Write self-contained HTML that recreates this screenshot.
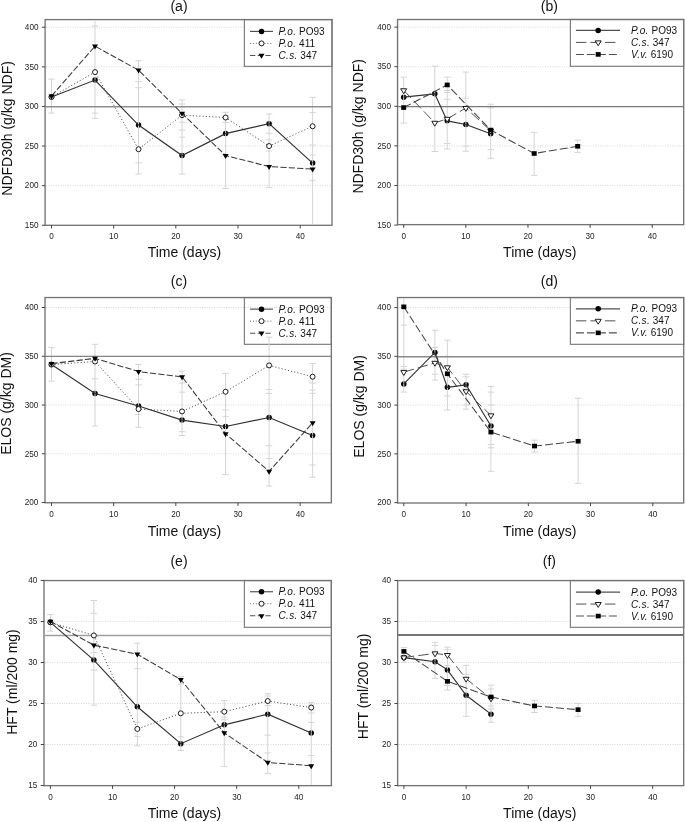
<!DOCTYPE html><html><head><meta charset="utf-8"><style>html,body{margin:0;padding:0;background:#fff;width:685px;height:822px;overflow:hidden}svg{display:block;filter:grayscale(1)}text{font-family:"Liberation Sans",sans-serif}</style></head><body>
<svg width="685" height="822" viewBox="0 0 685 822">
<g id="pa"><line x1="46.1" y1="185.65" x2="331" y2="185.65" stroke="#d2d2d2" stroke-width="0.9" stroke-dasharray="1 1.4"/><line x1="46.1" y1="146.05" x2="331" y2="146.05" stroke="#d2d2d2" stroke-width="0.9" stroke-dasharray="1 1.4"/><line x1="46.1" y1="106.45" x2="331" y2="106.45" stroke="#d2d2d2" stroke-width="0.9" stroke-dasharray="1 1.4"/><line x1="46.1" y1="66.85" x2="331" y2="66.85" stroke="#d2d2d2" stroke-width="0.9" stroke-dasharray="1 1.4"/><line x1="46.1" y1="27.25" x2="331" y2="27.25" stroke="#d2d2d2" stroke-width="0.9" stroke-dasharray="1 1.4"/><rect x="244.4" y="19.6" width="87.6" height="46.8" fill="#fff" stroke="#808080" stroke-width="1.2"/><path d="M250 31.4 L273 31.4" fill="none" stroke="#505050" stroke-width="1.15"/><circle cx="261.5" cy="31.4" r="2.75" fill="#000"/><text x="278.6" y="34.9" font-size="10" fill="#111"><tspan font-style="italic" letter-spacing="0.3">P.o.</tspan> PO93</text><path d="M250 43.4 L273 43.4" fill="none" stroke="#505050" stroke-width="0.9" stroke-dasharray="1 1.9"/><circle cx="261.5" cy="43.4" r="2.5" fill="#fff" stroke="#111" stroke-width="0.95"/><text x="278.6" y="46.9" font-size="10" fill="#111"><tspan font-style="italic" letter-spacing="0.3">P.o.</tspan> 411</text><path d="M250 55.4 L273 55.4" fill="none" stroke="#505050" stroke-width="1.05" stroke-dasharray="5.3 2.4"/><path d="M258.5 53.8H264.5L261.5 58.8Z" fill="#000"/><text x="278.6" y="58.9" font-size="10" fill="#111"><tspan font-style="italic" letter-spacing="0.3">C.s.</tspan> 347</text><rect x="45.1" y="19.6" width="286.9" height="205.7" fill="none" stroke="#747474" stroke-width="1.35"/><circle cx="51.5" cy="96.95" r="2.75" fill="#000"/><circle cx="95.02" cy="80.08" r="2.75" fill="#000"/><circle cx="138.54" cy="125.06" r="2.75" fill="#000"/><circle cx="182.06" cy="155.55" r="2.75" fill="#000"/><circle cx="225.58" cy="133.62" r="2.75" fill="#000"/><circle cx="269.1" cy="123.64" r="2.75" fill="#000"/><circle cx="312.61" cy="163.08" r="2.75" fill="#000"/><line x1="51.5" y1="79.1" x2="51.5" y2="113.1" stroke="#d4d4d4" stroke-width="1"/><line x1="48.3" y1="79.1" x2="54.7" y2="79.1" stroke="#d4d4d4" stroke-width="1"/><line x1="48.3" y1="113.1" x2="54.7" y2="113.1" stroke="#d4d4d4" stroke-width="1"/><line x1="95.02" y1="20.3" x2="95.02" y2="118.3" stroke="#d4d4d4" stroke-width="1"/><line x1="91.82" y1="26" x2="98.22" y2="26" stroke="#d4d4d4" stroke-width="1"/><line x1="91.82" y1="113.1" x2="98.22" y2="113.1" stroke="#d4d4d4" stroke-width="1"/><line x1="91.82" y1="118.3" x2="98.22" y2="118.3" stroke="#d4d4d4" stroke-width="1"/><line x1="138.54" y1="60.8" x2="138.54" y2="174" stroke="#d4d4d4" stroke-width="1"/><line x1="135.34" y1="60.8" x2="141.74" y2="60.8" stroke="#d4d4d4" stroke-width="1"/><line x1="135.34" y1="81.7" x2="141.74" y2="81.7" stroke="#d4d4d4" stroke-width="1"/><line x1="135.34" y1="87.7" x2="141.74" y2="87.7" stroke="#d4d4d4" stroke-width="1"/><line x1="135.34" y1="162.8" x2="141.74" y2="162.8" stroke="#d4d4d4" stroke-width="1"/><line x1="135.34" y1="174" x2="141.74" y2="174" stroke="#d4d4d4" stroke-width="1"/><line x1="182.06" y1="100" x2="182.06" y2="174" stroke="#d4d4d4" stroke-width="1"/><line x1="178.86" y1="100" x2="185.26" y2="100" stroke="#d4d4d4" stroke-width="1"/><line x1="178.86" y1="104" x2="185.26" y2="104" stroke="#d4d4d4" stroke-width="1"/><line x1="178.86" y1="122.2" x2="185.26" y2="122.2" stroke="#d4d4d4" stroke-width="1"/><line x1="178.86" y1="130.1" x2="185.26" y2="130.1" stroke="#d4d4d4" stroke-width="1"/><line x1="178.86" y1="137.2" x2="185.26" y2="137.2" stroke="#d4d4d4" stroke-width="1"/><line x1="178.86" y1="174" x2="185.26" y2="174" stroke="#d4d4d4" stroke-width="1"/><line x1="225.58" y1="112.3" x2="225.58" y2="188.4" stroke="#d4d4d4" stroke-width="1"/><line x1="222.38" y1="112.3" x2="228.78" y2="112.3" stroke="#d4d4d4" stroke-width="1"/><line x1="222.38" y1="122.4" x2="228.78" y2="122.4" stroke="#d4d4d4" stroke-width="1"/><line x1="222.38" y1="188.4" x2="228.78" y2="188.4" stroke="#d4d4d4" stroke-width="1"/><line x1="269.1" y1="113.9" x2="269.1" y2="187.6" stroke="#d4d4d4" stroke-width="1"/><line x1="265.9" y1="113.9" x2="272.3" y2="113.9" stroke="#d4d4d4" stroke-width="1"/><line x1="265.9" y1="133.2" x2="272.3" y2="133.2" stroke="#d4d4d4" stroke-width="1"/><line x1="265.9" y1="140" x2="272.3" y2="140" stroke="#d4d4d4" stroke-width="1"/><line x1="265.9" y1="151" x2="272.3" y2="151" stroke="#d4d4d4" stroke-width="1"/><line x1="265.9" y1="187.6" x2="272.3" y2="187.6" stroke="#d4d4d4" stroke-width="1"/><line x1="312.61" y1="97.4" x2="312.61" y2="224.5" stroke="#d4d4d4" stroke-width="1"/><line x1="309.41" y1="97.4" x2="315.81" y2="97.4" stroke="#d4d4d4" stroke-width="1"/><line x1="309.41" y1="112.6" x2="315.81" y2="112.6" stroke="#d4d4d4" stroke-width="1"/><line x1="309.41" y1="145" x2="315.81" y2="145" stroke="#d4d4d4" stroke-width="1"/><line x1="309.41" y1="155" x2="315.81" y2="155" stroke="#d4d4d4" stroke-width="1"/><line x1="309.41" y1="180.3" x2="315.81" y2="180.3" stroke="#d4d4d4" stroke-width="1"/><line x1="45.1" y1="106.7" x2="332" y2="106.7" stroke="#8e8e8e" stroke-width="1.6"/><path d="M51.5 96.95 L95.02 80.08 L138.54 125.06 L182.06 155.55 L225.58 133.62 L269.1 123.64 L312.61 163.08" fill="none" stroke="#303030" stroke-width="1.15"/><path d="M51.5 96.95 L95.02 72.08 L138.54 149.22 L182.06 115.16 L225.58 117.54 L269.1 146.05 L312.61 126.25" fill="none" stroke="#3a3a3a" stroke-width="0.9" stroke-dasharray="1.1 2.15"/><circle cx="51.5" cy="96.95" r="2.5" fill="#fff" stroke="#111" stroke-width="0.95"/><circle cx="95.02" cy="72.08" r="2.5" fill="#fff" stroke="#111" stroke-width="0.95"/><circle cx="138.54" cy="149.22" r="2.5" fill="#fff" stroke="#111" stroke-width="0.95"/><circle cx="182.06" cy="115.16" r="2.5" fill="#fff" stroke="#111" stroke-width="0.95"/><circle cx="225.58" cy="117.54" r="2.5" fill="#fff" stroke="#111" stroke-width="0.95"/><circle cx="269.1" cy="146.05" r="2.5" fill="#fff" stroke="#111" stroke-width="0.95"/><circle cx="312.61" cy="126.25" r="2.5" fill="#fff" stroke="#111" stroke-width="0.95"/><path d="M51.5 96.05 L95.02 46.15 L138.54 70.15 L182.06 113.47 L225.58 155.53 L269.1 166.53 L312.61 169.15" fill="none" stroke="#383838" stroke-width="1.05" stroke-dasharray="6.2 2.2"/><path d="M48.5 94.45H54.5L51.5 99.45Z" fill="#000"/><path d="M92.02 44.55H98.02L95.02 49.55Z" fill="#000"/><path d="M135.54 68.55H141.54L138.54 73.55Z" fill="#000"/><path d="M179.06 111.87H185.06L182.06 116.87Z" fill="#000"/><path d="M222.58 153.93H228.58L225.58 158.93Z" fill="#000"/><path d="M266.1 164.93H272.1L269.1 169.93Z" fill="#000"/><path d="M309.61 167.55H315.61L312.61 172.55Z" fill="#000"/><line x1="41.9" y1="225.25" x2="45.1" y2="225.25" stroke="#444" stroke-width="1"/><text x="38.5" y="228" font-size="8.8" text-anchor="end" fill="#222" textLength="13.65" lengthAdjust="spacingAndGlyphs">150</text><line x1="41.9" y1="185.65" x2="45.1" y2="185.65" stroke="#444" stroke-width="1"/><text x="38.5" y="188.4" font-size="8.8" text-anchor="end" fill="#222" textLength="13.65" lengthAdjust="spacingAndGlyphs">200</text><line x1="41.9" y1="146.05" x2="45.1" y2="146.05" stroke="#444" stroke-width="1"/><text x="38.5" y="148.8" font-size="8.8" text-anchor="end" fill="#222" textLength="13.65" lengthAdjust="spacingAndGlyphs">250</text><line x1="41.9" y1="106.45" x2="45.1" y2="106.45" stroke="#444" stroke-width="1"/><text x="38.5" y="109.2" font-size="8.8" text-anchor="end" fill="#222" textLength="13.65" lengthAdjust="spacingAndGlyphs">300</text><line x1="41.9" y1="66.85" x2="45.1" y2="66.85" stroke="#444" stroke-width="1"/><text x="38.5" y="69.6" font-size="8.8" text-anchor="end" fill="#222" textLength="13.65" lengthAdjust="spacingAndGlyphs">350</text><line x1="41.9" y1="27.25" x2="45.1" y2="27.25" stroke="#444" stroke-width="1"/><text x="38.5" y="30" font-size="8.8" text-anchor="end" fill="#222" textLength="13.65" lengthAdjust="spacingAndGlyphs">400</text><line x1="51.5" y1="225.3" x2="51.5" y2="228.5" stroke="#444" stroke-width="1"/><text x="51.5" y="239.4" font-size="8.8" text-anchor="middle" fill="#222" textLength="4.55" lengthAdjust="spacingAndGlyphs">0</text><line x1="113.67" y1="225.3" x2="113.67" y2="228.5" stroke="#444" stroke-width="1"/><text x="113.67" y="239.4" font-size="8.8" text-anchor="middle" fill="#222" textLength="9.1" lengthAdjust="spacingAndGlyphs">10</text><line x1="175.84" y1="225.3" x2="175.84" y2="228.5" stroke="#444" stroke-width="1"/><text x="175.84" y="239.4" font-size="8.8" text-anchor="middle" fill="#222" textLength="9.1" lengthAdjust="spacingAndGlyphs">20</text><line x1="238.01" y1="225.3" x2="238.01" y2="228.5" stroke="#444" stroke-width="1"/><text x="238.01" y="239.4" font-size="8.8" text-anchor="middle" fill="#222" textLength="9.1" lengthAdjust="spacingAndGlyphs">30</text><line x1="300.18" y1="225.3" x2="300.18" y2="228.5" stroke="#444" stroke-width="1"/><text x="300.18" y="239.4" font-size="8.8" text-anchor="middle" fill="#222" textLength="9.1" lengthAdjust="spacingAndGlyphs">40</text><text x="184.4" y="257" font-size="14" text-anchor="middle" fill="#111">Time (days)</text><text transform="translate(11.9,128.4) rotate(-90)" x="0" y="0" font-size="14" text-anchor="middle" fill="#111">NDFD30h (g/kg NDF)</text><text x="179" y="10.8" font-size="14" text-anchor="middle" fill="#111">(a)</text></g>
<g id="pb"><line x1="398.55" y1="185.5" x2="682.7" y2="185.5" stroke="#d2d2d2" stroke-width="0.9" stroke-dasharray="1 1.4"/><line x1="398.55" y1="145.9" x2="682.7" y2="145.9" stroke="#d2d2d2" stroke-width="0.9" stroke-dasharray="1 1.4"/><line x1="398.55" y1="106.3" x2="682.7" y2="106.3" stroke="#d2d2d2" stroke-width="0.9" stroke-dasharray="1 1.4"/><line x1="398.55" y1="66.7" x2="682.7" y2="66.7" stroke="#d2d2d2" stroke-width="0.9" stroke-dasharray="1 1.4"/><line x1="398.55" y1="27.1" x2="682.7" y2="27.1" stroke="#d2d2d2" stroke-width="0.9" stroke-dasharray="1 1.4"/><rect x="570.4" y="19.5" width="113.3" height="46.8" fill="#fff" stroke="#808080" stroke-width="1.2"/><path d="M575.9 30.4 L620.1 30.4" fill="none" stroke="#505050" stroke-width="1.15"/><circle cx="598.2" cy="30.4" r="2.75" fill="#000"/><text x="631" y="33.9" font-size="10" fill="#111"><tspan font-style="italic" letter-spacing="0.3">P.o.</tspan> PO93</text><path d="M575.9 42.4 L615.7 42.4" fill="none" stroke="#505050" stroke-width="1.0" stroke-dasharray="10.5 4"/><path d="M595.2 40.85H601.2L598.2 45.75Z" fill="#fff" stroke="#111" stroke-width="0.95"/><text x="631" y="45.9" font-size="10" fill="#111"><tspan font-style="italic" letter-spacing="0.3">C.s.</tspan> 347</text><path d="M575.9 54.4 L620.1 54.4" fill="none" stroke="#505050" stroke-width="1.05" stroke-dasharray="8 3"/><rect x="595.7" y="52.1" width="5" height="4.6" fill="#000"/><text x="631" y="57.9" font-size="10" fill="#111"><tspan font-style="italic" letter-spacing="0.3">V.v.</tspan> 6190</text><rect x="397.55" y="19.5" width="286.15" height="205.15" fill="none" stroke="#747474" stroke-width="1.35"/><circle cx="403.7" cy="97.19" r="2.75" fill="#000"/><circle cx="434.77" cy="93.87" r="2.75" fill="#000"/><circle cx="447.2" cy="120.87" r="2.75" fill="#000"/><circle cx="465.84" cy="124.52" r="2.75" fill="#000"/><circle cx="490.7" cy="133.78" r="2.75" fill="#000"/><line x1="403.7" y1="77.2" x2="403.7" y2="123.1" stroke="#d4d4d4" stroke-width="1"/><line x1="400.5" y1="77.2" x2="406.9" y2="77.2" stroke="#d4d4d4" stroke-width="1"/><line x1="400.5" y1="88.6" x2="406.9" y2="88.6" stroke="#d4d4d4" stroke-width="1"/><line x1="400.5" y1="123.1" x2="406.9" y2="123.1" stroke="#d4d4d4" stroke-width="1"/><line x1="434.77" y1="66.1" x2="434.77" y2="151.5" stroke="#d4d4d4" stroke-width="1"/><line x1="431.57" y1="66.1" x2="437.97" y2="66.1" stroke="#d4d4d4" stroke-width="1"/><line x1="431.57" y1="151.5" x2="437.97" y2="151.5" stroke="#d4d4d4" stroke-width="1"/><line x1="447.2" y1="77.2" x2="447.2" y2="149" stroke="#d4d4d4" stroke-width="1"/><line x1="444" y1="77.2" x2="450.4" y2="77.2" stroke="#d4d4d4" stroke-width="1"/><line x1="444" y1="90.5" x2="450.4" y2="90.5" stroke="#d4d4d4" stroke-width="1"/><line x1="444" y1="92.5" x2="450.4" y2="92.5" stroke="#d4d4d4" stroke-width="1"/><line x1="444" y1="99.3" x2="450.4" y2="99.3" stroke="#d4d4d4" stroke-width="1"/><line x1="444" y1="143.5" x2="450.4" y2="143.5" stroke="#d4d4d4" stroke-width="1"/><line x1="444" y1="149" x2="450.4" y2="149" stroke="#d4d4d4" stroke-width="1"/><line x1="465.84" y1="72" x2="465.84" y2="151.2" stroke="#d4d4d4" stroke-width="1"/><line x1="462.64" y1="72" x2="469.04" y2="72" stroke="#d4d4d4" stroke-width="1"/><line x1="462.64" y1="98.2" x2="469.04" y2="98.2" stroke="#d4d4d4" stroke-width="1"/><line x1="462.64" y1="146.2" x2="469.04" y2="146.2" stroke="#d4d4d4" stroke-width="1"/><line x1="462.64" y1="151.2" x2="469.04" y2="151.2" stroke="#d4d4d4" stroke-width="1"/><line x1="490.7" y1="104.2" x2="490.7" y2="158.3" stroke="#d4d4d4" stroke-width="1"/><line x1="487.5" y1="104.2" x2="493.9" y2="104.2" stroke="#d4d4d4" stroke-width="1"/><line x1="487.5" y1="107.9" x2="493.9" y2="107.9" stroke="#d4d4d4" stroke-width="1"/><line x1="487.5" y1="149.6" x2="493.9" y2="149.6" stroke="#d4d4d4" stroke-width="1"/><line x1="487.5" y1="158.3" x2="493.9" y2="158.3" stroke="#d4d4d4" stroke-width="1"/><line x1="534.19" y1="132.3" x2="534.19" y2="175.4" stroke="#d4d4d4" stroke-width="1"/><line x1="530.99" y1="132.3" x2="537.39" y2="132.3" stroke="#d4d4d4" stroke-width="1"/><line x1="530.99" y1="175.4" x2="537.39" y2="175.4" stroke="#d4d4d4" stroke-width="1"/><line x1="577.69" y1="140.2" x2="577.69" y2="152.4" stroke="#d4d4d4" stroke-width="1"/><line x1="574.49" y1="140.2" x2="580.89" y2="140.2" stroke="#d4d4d4" stroke-width="1"/><line x1="574.49" y1="152.4" x2="580.89" y2="152.4" stroke="#d4d4d4" stroke-width="1"/><line x1="397.55" y1="106.55" x2="683.7" y2="106.55" stroke="#7a7a7a" stroke-width="1.25"/><path d="M403.7 97.19 L434.77 93.87 L447.2 120.87 L465.84 124.52 L490.7 133.78" fill="none" stroke="#303030" stroke-width="1.15"/><path d="M403.7 90.35 L434.77 122.82 L447.2 118.86 L465.84 108.01 L490.7 130.74" fill="none" stroke="#505050" stroke-width="1.0" stroke-dasharray="10.5 4"/><path d="M400.7 88.8H406.7L403.7 93.7Z" fill="#fff" stroke="#111" stroke-width="0.95"/><path d="M431.77 121.27H437.77L434.77 126.17Z" fill="#fff" stroke="#111" stroke-width="0.95"/><path d="M444.2 117.31H450.2L447.2 122.21Z" fill="#fff" stroke="#111" stroke-width="0.95"/><path d="M462.84 106.46H468.84L465.84 111.36Z" fill="#fff" stroke="#111" stroke-width="0.95"/><path d="M487.7 129.19H493.7L490.7 134.09Z" fill="#fff" stroke="#111" stroke-width="0.95"/><path d="M403.7 107.57 L447.2 84.92 L490.7 130.06 L534.19 153.5 L577.69 146.3" fill="none" stroke="#444" stroke-width="1.05" stroke-dasharray="8 3"/><rect x="401.2" y="105.27" width="5" height="4.6" fill="#000"/><rect x="444.7" y="82.62" width="5" height="4.6" fill="#000"/><rect x="488.2" y="127.76" width="5" height="4.6" fill="#000"/><rect x="531.69" y="151.2" width="5" height="4.6" fill="#000"/><rect x="575.19" y="144" width="5" height="4.6" fill="#000"/><line x1="394.35" y1="225.1" x2="397.55" y2="225.1" stroke="#444" stroke-width="1"/><text x="390.95" y="227.85" font-size="8.8" text-anchor="end" fill="#222" textLength="13.65" lengthAdjust="spacingAndGlyphs">150</text><line x1="394.35" y1="185.5" x2="397.55" y2="185.5" stroke="#444" stroke-width="1"/><text x="390.95" y="188.25" font-size="8.8" text-anchor="end" fill="#222" textLength="13.65" lengthAdjust="spacingAndGlyphs">200</text><line x1="394.35" y1="145.9" x2="397.55" y2="145.9" stroke="#444" stroke-width="1"/><text x="390.95" y="148.65" font-size="8.8" text-anchor="end" fill="#222" textLength="13.65" lengthAdjust="spacingAndGlyphs">250</text><line x1="394.35" y1="106.3" x2="397.55" y2="106.3" stroke="#444" stroke-width="1"/><text x="390.95" y="109.05" font-size="8.8" text-anchor="end" fill="#222" textLength="13.65" lengthAdjust="spacingAndGlyphs">300</text><line x1="394.35" y1="66.7" x2="397.55" y2="66.7" stroke="#444" stroke-width="1"/><text x="390.95" y="69.45" font-size="8.8" text-anchor="end" fill="#222" textLength="13.65" lengthAdjust="spacingAndGlyphs">350</text><line x1="394.35" y1="27.1" x2="397.55" y2="27.1" stroke="#444" stroke-width="1"/><text x="390.95" y="29.85" font-size="8.8" text-anchor="end" fill="#222" textLength="13.65" lengthAdjust="spacingAndGlyphs">400</text><line x1="403.7" y1="224.65" x2="403.7" y2="227.85" stroke="#444" stroke-width="1"/><text x="403.7" y="238.75" font-size="8.8" text-anchor="middle" fill="#222" textLength="4.55" lengthAdjust="spacingAndGlyphs">0</text><line x1="465.84" y1="224.65" x2="465.84" y2="227.85" stroke="#444" stroke-width="1"/><text x="465.84" y="238.75" font-size="8.8" text-anchor="middle" fill="#222" textLength="9.1" lengthAdjust="spacingAndGlyphs">10</text><line x1="527.98" y1="224.65" x2="527.98" y2="227.85" stroke="#444" stroke-width="1"/><text x="527.98" y="238.75" font-size="8.8" text-anchor="middle" fill="#222" textLength="9.1" lengthAdjust="spacingAndGlyphs">20</text><line x1="590.12" y1="224.65" x2="590.12" y2="227.85" stroke="#444" stroke-width="1"/><text x="590.12" y="238.75" font-size="8.8" text-anchor="middle" fill="#222" textLength="9.1" lengthAdjust="spacingAndGlyphs">30</text><line x1="652.26" y1="224.65" x2="652.26" y2="227.85" stroke="#444" stroke-width="1"/><text x="652.26" y="238.75" font-size="8.8" text-anchor="middle" fill="#222" textLength="9.1" lengthAdjust="spacingAndGlyphs">40</text><text x="539.8" y="257" font-size="14" text-anchor="middle" fill="#111">Time (days)</text><text transform="translate(362.5,126.3) rotate(-90)" x="0" y="0" font-size="14" text-anchor="middle" fill="#111">NDFD30h (g/kg NDF)</text><text x="549.3" y="10.8" font-size="14" text-anchor="middle" fill="#111">(b)</text></g>
<g id="pc"><line x1="46" y1="453.75" x2="330.35" y2="453.75" stroke="#d2d2d2" stroke-width="0.9" stroke-dasharray="1 1.4"/><line x1="46" y1="405" x2="330.35" y2="405" stroke="#d2d2d2" stroke-width="0.9" stroke-dasharray="1 1.4"/><line x1="46" y1="356.25" x2="330.35" y2="356.25" stroke="#d2d2d2" stroke-width="0.9" stroke-dasharray="1 1.4"/><line x1="46" y1="307.5" x2="330.35" y2="307.5" stroke="#d2d2d2" stroke-width="0.9" stroke-dasharray="1 1.4"/><rect x="244.4" y="297.55" width="86.95" height="46.8" fill="none" stroke="#808080" stroke-width="1.2"/><path d="M250 309.15 L273 309.15" fill="none" stroke="#505050" stroke-width="1.15"/><circle cx="261.5" cy="309.15" r="2.75" fill="#000"/><text x="278.6" y="312.65" font-size="10" fill="#111"><tspan font-style="italic" letter-spacing="0.3">P.o.</tspan> PO93</text><path d="M250 321.15 L273 321.15" fill="none" stroke="#505050" stroke-width="0.9" stroke-dasharray="1 1.9"/><circle cx="261.5" cy="321.15" r="2.5" fill="#fff" stroke="#111" stroke-width="0.95"/><text x="278.6" y="324.65" font-size="10" fill="#111"><tspan font-style="italic" letter-spacing="0.3">P.o.</tspan> 411</text><path d="M250 333.15 L273 333.15" fill="none" stroke="#505050" stroke-width="1.05" stroke-dasharray="5.3 2.4"/><path d="M258.5 331.55H264.5L261.5 336.55Z" fill="#000"/><text x="278.6" y="336.65" font-size="10" fill="#111"><tspan font-style="italic" letter-spacing="0.3">C.s.</tspan> 347</text><rect x="45" y="297.55" width="286.35" height="205.2" fill="none" stroke="#747474" stroke-width="1.35"/><circle cx="51.5" cy="364.54" r="2.75" fill="#000"/><circle cx="95.02" cy="393.5" r="2.75" fill="#000"/><circle cx="138.54" cy="406.07" r="2.75" fill="#000"/><circle cx="182.06" cy="420.11" r="2.75" fill="#000"/><circle cx="225.58" cy="426.45" r="2.75" fill="#000"/><circle cx="269.1" cy="417.48" r="2.75" fill="#000"/><circle cx="312.61" cy="435.52" r="2.75" fill="#000"/><line x1="51.5" y1="347.4" x2="51.5" y2="381.1" stroke="#d4d4d4" stroke-width="1"/><line x1="48.3" y1="347.4" x2="54.7" y2="347.4" stroke="#d4d4d4" stroke-width="1"/><line x1="48.3" y1="381.1" x2="54.7" y2="381.1" stroke="#d4d4d4" stroke-width="1"/><line x1="95.02" y1="344.3" x2="95.02" y2="426.1" stroke="#d4d4d4" stroke-width="1"/><line x1="91.82" y1="344.3" x2="98.22" y2="344.3" stroke="#d4d4d4" stroke-width="1"/><line x1="91.82" y1="378.8" x2="98.22" y2="378.8" stroke="#d4d4d4" stroke-width="1"/><line x1="91.82" y1="426.1" x2="98.22" y2="426.1" stroke="#d4d4d4" stroke-width="1"/><line x1="138.54" y1="364.5" x2="138.54" y2="427.3" stroke="#d4d4d4" stroke-width="1"/><line x1="135.34" y1="364.5" x2="141.74" y2="364.5" stroke="#d4d4d4" stroke-width="1"/><line x1="135.34" y1="379.3" x2="141.74" y2="379.3" stroke="#d4d4d4" stroke-width="1"/><line x1="135.34" y1="384.9" x2="141.74" y2="384.9" stroke="#d4d4d4" stroke-width="1"/><line x1="135.34" y1="414.6" x2="141.74" y2="414.6" stroke="#d4d4d4" stroke-width="1"/><line x1="135.34" y1="427.3" x2="141.74" y2="427.3" stroke="#d4d4d4" stroke-width="1"/><line x1="182.06" y1="371.1" x2="182.06" y2="435.5" stroke="#d4d4d4" stroke-width="1"/><line x1="178.86" y1="371.1" x2="185.26" y2="371.1" stroke="#d4d4d4" stroke-width="1"/><line x1="178.86" y1="383.1" x2="185.26" y2="383.1" stroke="#d4d4d4" stroke-width="1"/><line x1="178.86" y1="392.1" x2="185.26" y2="392.1" stroke="#d4d4d4" stroke-width="1"/><line x1="178.86" y1="431.7" x2="185.26" y2="431.7" stroke="#d4d4d4" stroke-width="1"/><line x1="178.86" y1="435.5" x2="185.26" y2="435.5" stroke="#d4d4d4" stroke-width="1"/><line x1="225.58" y1="373.4" x2="225.58" y2="474.6" stroke="#d4d4d4" stroke-width="1"/><line x1="222.38" y1="373.4" x2="228.78" y2="373.4" stroke="#d4d4d4" stroke-width="1"/><line x1="222.38" y1="410" x2="228.78" y2="410" stroke="#d4d4d4" stroke-width="1"/><line x1="222.38" y1="416.4" x2="228.78" y2="416.4" stroke="#d4d4d4" stroke-width="1"/><line x1="222.38" y1="474.6" x2="228.78" y2="474.6" stroke="#d4d4d4" stroke-width="1"/><line x1="269.1" y1="337.2" x2="269.1" y2="486.1" stroke="#d4d4d4" stroke-width="1"/><line x1="265.9" y1="337.2" x2="272.3" y2="337.2" stroke="#d4d4d4" stroke-width="1"/><line x1="265.9" y1="389.5" x2="272.3" y2="389.5" stroke="#d4d4d4" stroke-width="1"/><line x1="265.9" y1="393.4" x2="272.3" y2="393.4" stroke="#d4d4d4" stroke-width="1"/><line x1="265.9" y1="445.7" x2="272.3" y2="445.7" stroke="#d4d4d4" stroke-width="1"/><line x1="265.9" y1="458.5" x2="272.3" y2="458.5" stroke="#d4d4d4" stroke-width="1"/><line x1="265.9" y1="486.1" x2="272.3" y2="486.1" stroke="#d4d4d4" stroke-width="1"/><line x1="312.61" y1="363.5" x2="312.61" y2="477.2" stroke="#d4d4d4" stroke-width="1"/><line x1="309.41" y1="363.5" x2="315.81" y2="363.5" stroke="#d4d4d4" stroke-width="1"/><line x1="309.41" y1="383.1" x2="315.81" y2="383.1" stroke="#d4d4d4" stroke-width="1"/><line x1="309.41" y1="390" x2="315.81" y2="390" stroke="#d4d4d4" stroke-width="1"/><line x1="309.41" y1="393.4" x2="315.81" y2="393.4" stroke="#d4d4d4" stroke-width="1"/><line x1="309.41" y1="464.9" x2="315.81" y2="464.9" stroke="#d4d4d4" stroke-width="1"/><line x1="309.41" y1="477.2" x2="315.81" y2="477.2" stroke="#d4d4d4" stroke-width="1"/><line x1="45" y1="356.42" x2="331.35" y2="356.42" stroke="#848484" stroke-width="1.4"/><path d="M51.5 364.54 L95.02 393.5 L138.54 406.07 L182.06 420.11 L225.58 426.45 L269.1 417.48 L312.61 435.52" fill="none" stroke="#303030" stroke-width="1.15"/><path d="M51.5 364.54 L95.02 361.51 L138.54 409.09 L182.06 411.44 L225.58 391.74 L269.1 365.41 L312.61 376.73" fill="none" stroke="#3a3a3a" stroke-width="0.9" stroke-dasharray="1.1 2.15"/><circle cx="51.5" cy="364.54" r="2.5" fill="#fff" stroke="#111" stroke-width="0.95"/><circle cx="95.02" cy="361.51" r="2.5" fill="#fff" stroke="#111" stroke-width="0.95"/><circle cx="138.54" cy="409.09" r="2.5" fill="#fff" stroke="#111" stroke-width="0.95"/><circle cx="182.06" cy="411.44" r="2.5" fill="#fff" stroke="#111" stroke-width="0.95"/><circle cx="225.58" cy="391.74" r="2.5" fill="#fff" stroke="#111" stroke-width="0.95"/><circle cx="269.1" cy="365.41" r="2.5" fill="#fff" stroke="#111" stroke-width="0.95"/><circle cx="312.61" cy="376.73" r="2.5" fill="#fff" stroke="#111" stroke-width="0.95"/><path d="M51.5 363.64 L95.02 358.37 L138.54 371.54 L182.06 376.8 L225.58 433.74 L269.1 471.38 L312.61 422.82" fill="none" stroke="#383838" stroke-width="1.05" stroke-dasharray="6.2 2.2"/><path d="M48.5 362.04H54.5L51.5 367.04Z" fill="#000"/><path d="M92.02 356.77H98.02L95.02 361.77Z" fill="#000"/><path d="M135.54 369.94H141.54L138.54 374.94Z" fill="#000"/><path d="M179.06 375.2H185.06L182.06 380.2Z" fill="#000"/><path d="M222.58 432.14H228.58L225.58 437.14Z" fill="#000"/><path d="M266.1 469.77H272.1L269.1 474.77Z" fill="#000"/><path d="M309.61 421.22H315.61L312.61 426.22Z" fill="#000"/><line x1="41.8" y1="502.5" x2="45" y2="502.5" stroke="#444" stroke-width="1"/><text x="38.4" y="505.25" font-size="8.8" text-anchor="end" fill="#222" textLength="13.65" lengthAdjust="spacingAndGlyphs">200</text><line x1="41.8" y1="453.75" x2="45" y2="453.75" stroke="#444" stroke-width="1"/><text x="38.4" y="456.5" font-size="8.8" text-anchor="end" fill="#222" textLength="13.65" lengthAdjust="spacingAndGlyphs">250</text><line x1="41.8" y1="405" x2="45" y2="405" stroke="#444" stroke-width="1"/><text x="38.4" y="407.75" font-size="8.8" text-anchor="end" fill="#222" textLength="13.65" lengthAdjust="spacingAndGlyphs">300</text><line x1="41.8" y1="356.25" x2="45" y2="356.25" stroke="#444" stroke-width="1"/><text x="38.4" y="359" font-size="8.8" text-anchor="end" fill="#222" textLength="13.65" lengthAdjust="spacingAndGlyphs">350</text><line x1="41.8" y1="307.5" x2="45" y2="307.5" stroke="#444" stroke-width="1"/><text x="38.4" y="310.25" font-size="8.8" text-anchor="end" fill="#222" textLength="13.65" lengthAdjust="spacingAndGlyphs">400</text><line x1="51.5" y1="502.75" x2="51.5" y2="505.95" stroke="#444" stroke-width="1"/><text x="51.5" y="516.85" font-size="8.8" text-anchor="middle" fill="#222" textLength="4.55" lengthAdjust="spacingAndGlyphs">0</text><line x1="113.67" y1="502.75" x2="113.67" y2="505.95" stroke="#444" stroke-width="1"/><text x="113.67" y="516.85" font-size="8.8" text-anchor="middle" fill="#222" textLength="9.1" lengthAdjust="spacingAndGlyphs">10</text><line x1="175.84" y1="502.75" x2="175.84" y2="505.95" stroke="#444" stroke-width="1"/><text x="175.84" y="516.85" font-size="8.8" text-anchor="middle" fill="#222" textLength="9.1" lengthAdjust="spacingAndGlyphs">20</text><line x1="238.01" y1="502.75" x2="238.01" y2="505.95" stroke="#444" stroke-width="1"/><text x="238.01" y="516.85" font-size="8.8" text-anchor="middle" fill="#222" textLength="9.1" lengthAdjust="spacingAndGlyphs">30</text><line x1="300.18" y1="502.75" x2="300.18" y2="505.95" stroke="#444" stroke-width="1"/><text x="300.18" y="516.85" font-size="8.8" text-anchor="middle" fill="#222" textLength="9.1" lengthAdjust="spacingAndGlyphs">40</text><text x="184.4" y="536" font-size="14" text-anchor="middle" fill="#111">Time (days)</text><text transform="translate(10.6,403.5) rotate(-90)" x="0" y="0" font-size="14" text-anchor="middle" fill="#111">ELOS (g/kg DM)</text><text x="178.9" y="286.1" font-size="14" text-anchor="middle" fill="#111">(c)</text></g>
<g id="pd"><line x1="398.55" y1="453.85" x2="682.7" y2="453.85" stroke="#d2d2d2" stroke-width="0.9" stroke-dasharray="1 1.4"/><line x1="398.55" y1="405.1" x2="682.7" y2="405.1" stroke="#d2d2d2" stroke-width="0.9" stroke-dasharray="1 1.4"/><line x1="398.55" y1="356.35" x2="682.7" y2="356.35" stroke="#d2d2d2" stroke-width="0.9" stroke-dasharray="1 1.4"/><line x1="398.55" y1="307.6" x2="682.7" y2="307.6" stroke="#d2d2d2" stroke-width="0.9" stroke-dasharray="1 1.4"/><rect x="570.4" y="297.55" width="113.3" height="46.8" fill="#fff" stroke="#808080" stroke-width="1.2"/><path d="M575.9 308.85 L620.1 308.85" fill="none" stroke="#505050" stroke-width="1.15"/><circle cx="598.2" cy="308.85" r="2.75" fill="#000"/><text x="631" y="312.35" font-size="10" fill="#111"><tspan font-style="italic" letter-spacing="0.3">P.o.</tspan> PO93</text><path d="M575.9 320.85 L615.7 320.85" fill="none" stroke="#505050" stroke-width="1.0" stroke-dasharray="10.5 4"/><path d="M595.2 319.3H601.2L598.2 324.2Z" fill="#fff" stroke="#111" stroke-width="0.95"/><text x="631" y="324.35" font-size="10" fill="#111"><tspan font-style="italic" letter-spacing="0.3">C.s.</tspan> 347</text><path d="M575.9 332.85 L620.1 332.85" fill="none" stroke="#505050" stroke-width="1.05" stroke-dasharray="8 3"/><rect x="595.7" y="330.55" width="5" height="4.6" fill="#000"/><text x="631" y="336.35" font-size="10" fill="#111"><tspan font-style="italic" letter-spacing="0.3">V.v.</tspan> 6190</text><rect x="397.55" y="297.55" width="286.15" height="205.45" fill="none" stroke="#747474" stroke-width="1.35"/><circle cx="403.8" cy="383.94" r="2.75" fill="#000"/><circle cx="434.93" cy="352.45" r="2.75" fill="#000"/><circle cx="447.38" cy="387.36" r="2.75" fill="#000"/><circle cx="466.05" cy="384.82" r="2.75" fill="#000"/><circle cx="490.95" cy="425.97" r="2.75" fill="#000"/><line x1="403.8" y1="298" x2="403.8" y2="392.1" stroke="#d4d4d4" stroke-width="1"/><line x1="400.6" y1="325.1" x2="407" y2="325.1" stroke="#d4d4d4" stroke-width="1"/><line x1="400.6" y1="366.5" x2="407" y2="366.5" stroke="#d4d4d4" stroke-width="1"/><line x1="400.6" y1="369.1" x2="407" y2="369.1" stroke="#d4d4d4" stroke-width="1"/><line x1="400.6" y1="392.1" x2="407" y2="392.1" stroke="#d4d4d4" stroke-width="1"/><line x1="434.93" y1="330.3" x2="434.93" y2="380.1" stroke="#d4d4d4" stroke-width="1"/><line x1="431.73" y1="330.3" x2="438.12" y2="330.3" stroke="#d4d4d4" stroke-width="1"/><line x1="431.73" y1="347.4" x2="438.12" y2="347.4" stroke="#d4d4d4" stroke-width="1"/><line x1="431.73" y1="374.2" x2="438.12" y2="374.2" stroke="#d4d4d4" stroke-width="1"/><line x1="431.73" y1="380.1" x2="438.12" y2="380.1" stroke="#d4d4d4" stroke-width="1"/><line x1="447.38" y1="340.2" x2="447.38" y2="410" stroke="#d4d4d4" stroke-width="1"/><line x1="444.18" y1="340.2" x2="450.57" y2="340.2" stroke="#d4d4d4" stroke-width="1"/><line x1="444.18" y1="356.3" x2="450.57" y2="356.3" stroke="#d4d4d4" stroke-width="1"/><line x1="444.18" y1="395.9" x2="450.57" y2="395.9" stroke="#d4d4d4" stroke-width="1"/><line x1="444.18" y1="410" x2="450.57" y2="410" stroke="#d4d4d4" stroke-width="1"/><line x1="466.05" y1="374.2" x2="466.05" y2="409.2" stroke="#d4d4d4" stroke-width="1"/><line x1="462.85" y1="374.2" x2="469.25" y2="374.2" stroke="#d4d4d4" stroke-width="1"/><line x1="462.85" y1="376.8" x2="469.25" y2="376.8" stroke="#d4d4d4" stroke-width="1"/><line x1="462.85" y1="404.9" x2="469.25" y2="404.9" stroke="#d4d4d4" stroke-width="1"/><line x1="462.85" y1="409.2" x2="469.25" y2="409.2" stroke="#d4d4d4" stroke-width="1"/><line x1="490.95" y1="386.5" x2="490.95" y2="471.3" stroke="#d4d4d4" stroke-width="1"/><line x1="487.75" y1="386.5" x2="494.15" y2="386.5" stroke="#d4d4d4" stroke-width="1"/><line x1="487.75" y1="392.1" x2="494.15" y2="392.1" stroke="#d4d4d4" stroke-width="1"/><line x1="487.75" y1="404.9" x2="494.15" y2="404.9" stroke="#d4d4d4" stroke-width="1"/><line x1="487.75" y1="444.5" x2="494.15" y2="444.5" stroke="#d4d4d4" stroke-width="1"/><line x1="487.75" y1="447.8" x2="494.15" y2="447.8" stroke="#d4d4d4" stroke-width="1"/><line x1="487.75" y1="471.3" x2="494.15" y2="471.3" stroke="#d4d4d4" stroke-width="1"/><line x1="534.52" y1="440.1" x2="534.52" y2="452" stroke="#d4d4d4" stroke-width="1"/><line x1="531.32" y1="440.1" x2="537.73" y2="440.1" stroke="#d4d4d4" stroke-width="1"/><line x1="531.32" y1="452" x2="537.73" y2="452" stroke="#d4d4d4" stroke-width="1"/><line x1="578.1" y1="398.2" x2="578.1" y2="483.4" stroke="#d4d4d4" stroke-width="1"/><line x1="574.9" y1="398.2" x2="581.3" y2="398.2" stroke="#d4d4d4" stroke-width="1"/><line x1="574.9" y1="483.4" x2="581.3" y2="483.4" stroke="#d4d4d4" stroke-width="1"/><line x1="397.55" y1="356.7" x2="683.7" y2="356.7" stroke="#8a8a8a" stroke-width="1.5"/><path d="M403.8 383.94 L434.93 352.45 L447.38 387.36 L466.05 384.82 L490.95 425.97" fill="none" stroke="#303030" stroke-width="1.15"/><path d="M403.8 372.12 L434.93 362.86 L447.38 367.35 L466.05 391.33 L490.95 415.41" fill="none" stroke="#505050" stroke-width="1.0" stroke-dasharray="10.5 4"/><path d="M400.8 370.57H406.8L403.8 375.47Z" fill="#fff" stroke="#111" stroke-width="0.95"/><path d="M431.93 361.31H437.93L434.93 366.21Z" fill="#fff" stroke="#111" stroke-width="0.95"/><path d="M444.38 365.8H450.38L447.38 370.7Z" fill="#fff" stroke="#111" stroke-width="0.95"/><path d="M463.05 389.78H469.05L466.05 394.68Z" fill="#fff" stroke="#111" stroke-width="0.95"/><path d="M487.95 413.86H493.95L490.95 418.76Z" fill="#fff" stroke="#111" stroke-width="0.95"/><path d="M403.8 306.82 L447.38 373.8 L490.95 432.11 L534.52 446.05 L578.1 441.27" fill="none" stroke="#444" stroke-width="1.05" stroke-dasharray="8 3"/><rect x="401.3" y="304.52" width="5" height="4.6" fill="#000"/><rect x="444.88" y="371.5" width="5" height="4.6" fill="#000"/><rect x="488.45" y="429.81" width="5" height="4.6" fill="#000"/><rect x="532.02" y="443.75" width="5" height="4.6" fill="#000"/><rect x="575.6" y="438.97" width="5" height="4.6" fill="#000"/><line x1="394.35" y1="502.6" x2="397.55" y2="502.6" stroke="#444" stroke-width="1"/><text x="390.95" y="505.35" font-size="8.8" text-anchor="end" fill="#222" textLength="13.65" lengthAdjust="spacingAndGlyphs">200</text><line x1="394.35" y1="453.85" x2="397.55" y2="453.85" stroke="#444" stroke-width="1"/><text x="390.95" y="456.6" font-size="8.8" text-anchor="end" fill="#222" textLength="13.65" lengthAdjust="spacingAndGlyphs">250</text><line x1="394.35" y1="405.1" x2="397.55" y2="405.1" stroke="#444" stroke-width="1"/><text x="390.95" y="407.85" font-size="8.8" text-anchor="end" fill="#222" textLength="13.65" lengthAdjust="spacingAndGlyphs">300</text><line x1="394.35" y1="356.35" x2="397.55" y2="356.35" stroke="#444" stroke-width="1"/><text x="390.95" y="359.1" font-size="8.8" text-anchor="end" fill="#222" textLength="13.65" lengthAdjust="spacingAndGlyphs">350</text><line x1="394.35" y1="307.6" x2="397.55" y2="307.6" stroke="#444" stroke-width="1"/><text x="390.95" y="310.35" font-size="8.8" text-anchor="end" fill="#222" textLength="13.65" lengthAdjust="spacingAndGlyphs">400</text><line x1="403.8" y1="503" x2="403.8" y2="506.2" stroke="#444" stroke-width="1"/><text x="403.8" y="517.1" font-size="8.8" text-anchor="middle" fill="#222" textLength="4.55" lengthAdjust="spacingAndGlyphs">0</text><line x1="466.05" y1="503" x2="466.05" y2="506.2" stroke="#444" stroke-width="1"/><text x="466.05" y="517.1" font-size="8.8" text-anchor="middle" fill="#222" textLength="9.1" lengthAdjust="spacingAndGlyphs">10</text><line x1="528.3" y1="503" x2="528.3" y2="506.2" stroke="#444" stroke-width="1"/><text x="528.3" y="517.1" font-size="8.8" text-anchor="middle" fill="#222" textLength="9.1" lengthAdjust="spacingAndGlyphs">20</text><line x1="590.55" y1="503" x2="590.55" y2="506.2" stroke="#444" stroke-width="1"/><text x="590.55" y="517.1" font-size="8.8" text-anchor="middle" fill="#222" textLength="9.1" lengthAdjust="spacingAndGlyphs">30</text><line x1="652.8" y1="503" x2="652.8" y2="506.2" stroke="#444" stroke-width="1"/><text x="652.8" y="517.1" font-size="8.8" text-anchor="middle" fill="#222" textLength="9.1" lengthAdjust="spacingAndGlyphs">40</text><text x="539.8" y="535.8" font-size="14" text-anchor="middle" fill="#111">Time (days)</text><text transform="translate(364.3,406.4) rotate(-90)" x="0" y="0" font-size="14" text-anchor="middle" fill="#111">ELOS (g/kg DM)</text><text x="549.4" y="285.9" font-size="14" text-anchor="middle" fill="#111">(d)</text></g>
<g id="pe"><line x1="45" y1="744.5" x2="330.35" y2="744.5" stroke="#d2d2d2" stroke-width="0.9" stroke-dasharray="1 1.4"/><line x1="45" y1="703.5" x2="330.35" y2="703.5" stroke="#d2d2d2" stroke-width="0.9" stroke-dasharray="1 1.4"/><line x1="45" y1="662.5" x2="330.35" y2="662.5" stroke="#d2d2d2" stroke-width="0.9" stroke-dasharray="1 1.4"/><line x1="45" y1="621.5" x2="330.35" y2="621.5" stroke="#d2d2d2" stroke-width="0.9" stroke-dasharray="1 1.4"/><rect x="244.4" y="580.55" width="86.95" height="46.8" fill="#fff" stroke="#808080" stroke-width="1.2"/><path d="M250 591.75 L273 591.75" fill="none" stroke="#505050" stroke-width="1.15"/><circle cx="261.5" cy="591.75" r="2.75" fill="#000"/><text x="278.6" y="595.25" font-size="10" fill="#111"><tspan font-style="italic" letter-spacing="0.3">P.o.</tspan> PO93</text><path d="M250 603.75 L273 603.75" fill="none" stroke="#505050" stroke-width="0.9" stroke-dasharray="1 1.9"/><circle cx="261.5" cy="603.75" r="2.5" fill="#fff" stroke="#111" stroke-width="0.95"/><text x="278.6" y="607.25" font-size="10" fill="#111"><tspan font-style="italic" letter-spacing="0.3">P.o.</tspan> 411</text><path d="M250 615.75 L273 615.75" fill="none" stroke="#505050" stroke-width="1.05" stroke-dasharray="5.3 2.4"/><path d="M258.5 614.15H264.5L261.5 619.15Z" fill="#000"/><text x="278.6" y="619.25" font-size="10" fill="#111"><tspan font-style="italic" letter-spacing="0.3">C.s.</tspan> 347</text><rect x="44" y="580.55" width="287.35" height="205.1" fill="none" stroke="#747474" stroke-width="1.35"/><circle cx="50.4" cy="622.32" r="2.75" fill="#000"/><circle cx="93.87" cy="660.04" r="2.75" fill="#000"/><circle cx="137.34" cy="706.78" r="2.75" fill="#000"/><circle cx="180.81" cy="743.68" r="2.75" fill="#000"/><circle cx="224.28" cy="724.82" r="2.75" fill="#000"/><circle cx="267.75" cy="714.16" r="2.75" fill="#000"/><circle cx="311.22" cy="733.02" r="2.75" fill="#000"/><line x1="50.4" y1="614.5" x2="50.4" y2="631.1" stroke="#d4d4d4" stroke-width="1"/><line x1="47.2" y1="614.5" x2="53.6" y2="614.5" stroke="#d4d4d4" stroke-width="1"/><line x1="47.2" y1="631.1" x2="53.6" y2="631.1" stroke="#d4d4d4" stroke-width="1"/><line x1="93.87" y1="600.5" x2="93.87" y2="705.2" stroke="#d4d4d4" stroke-width="1"/><line x1="90.67" y1="600.5" x2="97.07" y2="600.5" stroke="#d4d4d4" stroke-width="1"/><line x1="90.67" y1="613.3" x2="97.07" y2="613.3" stroke="#d4d4d4" stroke-width="1"/><line x1="90.67" y1="652.6" x2="97.07" y2="652.6" stroke="#d4d4d4" stroke-width="1"/><line x1="90.67" y1="670" x2="97.07" y2="670" stroke="#d4d4d4" stroke-width="1"/><line x1="90.67" y1="705.2" x2="97.07" y2="705.2" stroke="#d4d4d4" stroke-width="1"/><line x1="137.34" y1="643.2" x2="137.34" y2="745.9" stroke="#d4d4d4" stroke-width="1"/><line x1="134.14" y1="643.2" x2="140.54" y2="643.2" stroke="#d4d4d4" stroke-width="1"/><line x1="134.14" y1="668.7" x2="140.54" y2="668.7" stroke="#d4d4d4" stroke-width="1"/><line x1="134.14" y1="722.4" x2="140.54" y2="722.4" stroke="#d4d4d4" stroke-width="1"/><line x1="134.14" y1="736.4" x2="140.54" y2="736.4" stroke="#d4d4d4" stroke-width="1"/><line x1="134.14" y1="745.9" x2="140.54" y2="745.9" stroke="#d4d4d4" stroke-width="1"/><line x1="180.81" y1="676.4" x2="180.81" y2="750.5" stroke="#d4d4d4" stroke-width="1"/><line x1="177.61" y1="676.4" x2="184.01" y2="676.4" stroke="#d4d4d4" stroke-width="1"/><line x1="177.61" y1="684" x2="184.01" y2="684" stroke="#d4d4d4" stroke-width="1"/><line x1="177.61" y1="736.9" x2="184.01" y2="736.9" stroke="#d4d4d4" stroke-width="1"/><line x1="177.61" y1="750.5" x2="184.01" y2="750.5" stroke="#d4d4d4" stroke-width="1"/><line x1="224.28" y1="700.6" x2="224.28" y2="766.6" stroke="#d4d4d4" stroke-width="1"/><line x1="221.08" y1="700.6" x2="227.48" y2="700.6" stroke="#d4d4d4" stroke-width="1"/><line x1="221.08" y1="717.2" x2="227.48" y2="717.2" stroke="#d4d4d4" stroke-width="1"/><line x1="221.08" y1="719.8" x2="227.48" y2="719.8" stroke="#d4d4d4" stroke-width="1"/><line x1="221.08" y1="766.6" x2="227.48" y2="766.6" stroke="#d4d4d4" stroke-width="1"/><line x1="267.75" y1="693.7" x2="267.75" y2="773.5" stroke="#d4d4d4" stroke-width="1"/><line x1="264.55" y1="693.7" x2="270.95" y2="693.7" stroke="#d4d4d4" stroke-width="1"/><line x1="264.55" y1="696" x2="270.95" y2="696" stroke="#d4d4d4" stroke-width="1"/><line x1="264.55" y1="705.7" x2="270.95" y2="705.7" stroke="#d4d4d4" stroke-width="1"/><line x1="264.55" y1="735.1" x2="270.95" y2="735.1" stroke="#d4d4d4" stroke-width="1"/><line x1="264.55" y1="753" x2="270.95" y2="753" stroke="#d4d4d4" stroke-width="1"/><line x1="264.55" y1="773.5" x2="270.95" y2="773.5" stroke="#d4d4d4" stroke-width="1"/><line x1="311.22" y1="702.4" x2="311.22" y2="785" stroke="#d4d4d4" stroke-width="1"/><line x1="308.02" y1="702.4" x2="314.42" y2="702.4" stroke="#d4d4d4" stroke-width="1"/><line x1="308.02" y1="705" x2="314.42" y2="705" stroke="#d4d4d4" stroke-width="1"/><line x1="308.02" y1="712.9" x2="314.42" y2="712.9" stroke="#d4d4d4" stroke-width="1"/><line x1="308.02" y1="722.4" x2="314.42" y2="722.4" stroke="#d4d4d4" stroke-width="1"/><line x1="308.02" y1="755.6" x2="314.42" y2="755.6" stroke="#d4d4d4" stroke-width="1"/><line x1="44" y1="635.49" x2="331.35" y2="635.49" stroke="#a0a0a0" stroke-width="1.35"/><path d="M50.4 622.32 L93.87 660.04 L137.34 706.78 L180.81 743.68 L224.28 724.82 L267.75 714.16 L311.22 733.02" fill="none" stroke="#303030" stroke-width="1.15"/><path d="M50.4 622.32 L93.87 635.44 L137.34 728.92 L180.81 713.34 L224.28 711.7 L267.75 701.04 L311.22 707.6" fill="none" stroke="#3a3a3a" stroke-width="0.9" stroke-dasharray="1.1 2.15"/><circle cx="50.4" cy="622.32" r="2.5" fill="#fff" stroke="#111" stroke-width="0.95"/><circle cx="93.87" cy="635.44" r="2.5" fill="#fff" stroke="#111" stroke-width="0.95"/><circle cx="137.34" cy="728.92" r="2.5" fill="#fff" stroke="#111" stroke-width="0.95"/><circle cx="180.81" cy="713.34" r="2.5" fill="#fff" stroke="#111" stroke-width="0.95"/><circle cx="224.28" cy="711.7" r="2.5" fill="#fff" stroke="#111" stroke-width="0.95"/><circle cx="267.75" cy="701.04" r="2.5" fill="#fff" stroke="#111" stroke-width="0.95"/><circle cx="311.22" cy="707.6" r="2.5" fill="#fff" stroke="#111" stroke-width="0.95"/><path d="M50.4 621.42 L93.87 645.2 L137.34 654.22 L180.81 679.64 L224.28 732.94 L267.75 762.46 L311.22 765.74" fill="none" stroke="#383838" stroke-width="1.05" stroke-dasharray="6.2 2.2"/><path d="M47.4 619.82H53.4L50.4 624.82Z" fill="#000"/><path d="M90.87 643.6H96.87L93.87 648.6Z" fill="#000"/><path d="M134.34 652.62H140.34L137.34 657.62Z" fill="#000"/><path d="M177.81 678.04H183.81L180.81 683.04Z" fill="#000"/><path d="M221.28 731.34H227.28L224.28 736.34Z" fill="#000"/><path d="M264.75 760.86H270.75L267.75 765.86Z" fill="#000"/><path d="M308.22 764.14H314.22L311.22 769.14Z" fill="#000"/><line x1="40.8" y1="785.5" x2="44" y2="785.5" stroke="#444" stroke-width="1"/><text x="37.4" y="788.25" font-size="8.8" text-anchor="end" fill="#222" textLength="9.1" lengthAdjust="spacingAndGlyphs">15</text><line x1="40.8" y1="744.5" x2="44" y2="744.5" stroke="#444" stroke-width="1"/><text x="37.4" y="747.25" font-size="8.8" text-anchor="end" fill="#222" textLength="9.1" lengthAdjust="spacingAndGlyphs">20</text><line x1="40.8" y1="703.5" x2="44" y2="703.5" stroke="#444" stroke-width="1"/><text x="37.4" y="706.25" font-size="8.8" text-anchor="end" fill="#222" textLength="9.1" lengthAdjust="spacingAndGlyphs">25</text><line x1="40.8" y1="662.5" x2="44" y2="662.5" stroke="#444" stroke-width="1"/><text x="37.4" y="665.25" font-size="8.8" text-anchor="end" fill="#222" textLength="9.1" lengthAdjust="spacingAndGlyphs">30</text><line x1="40.8" y1="621.5" x2="44" y2="621.5" stroke="#444" stroke-width="1"/><text x="37.4" y="624.25" font-size="8.8" text-anchor="end" fill="#222" textLength="9.1" lengthAdjust="spacingAndGlyphs">35</text><line x1="40.8" y1="580.5" x2="44" y2="580.5" stroke="#444" stroke-width="1"/><text x="37.4" y="583.25" font-size="8.8" text-anchor="end" fill="#222" textLength="9.1" lengthAdjust="spacingAndGlyphs">40</text><line x1="50.4" y1="785.65" x2="50.4" y2="788.85" stroke="#444" stroke-width="1"/><text x="50.4" y="799.75" font-size="8.8" text-anchor="middle" fill="#222" textLength="4.55" lengthAdjust="spacingAndGlyphs">0</text><line x1="112.5" y1="785.65" x2="112.5" y2="788.85" stroke="#444" stroke-width="1"/><text x="112.5" y="799.75" font-size="8.8" text-anchor="middle" fill="#222" textLength="9.1" lengthAdjust="spacingAndGlyphs">10</text><line x1="174.6" y1="785.65" x2="174.6" y2="788.85" stroke="#444" stroke-width="1"/><text x="174.6" y="799.75" font-size="8.8" text-anchor="middle" fill="#222" textLength="9.1" lengthAdjust="spacingAndGlyphs">20</text><line x1="236.7" y1="785.65" x2="236.7" y2="788.85" stroke="#444" stroke-width="1"/><text x="236.7" y="799.75" font-size="8.8" text-anchor="middle" fill="#222" textLength="9.1" lengthAdjust="spacingAndGlyphs">30</text><line x1="298.8" y1="785.65" x2="298.8" y2="788.85" stroke="#444" stroke-width="1"/><text x="298.8" y="799.75" font-size="8.8" text-anchor="middle" fill="#222" textLength="9.1" lengthAdjust="spacingAndGlyphs">40</text><text x="184.4" y="817.8" font-size="14" text-anchor="middle" fill="#111">Time (days)</text><text transform="translate(17.2,682) rotate(-90)" x="0" y="0" font-size="14" text-anchor="middle" fill="#111">HFT (ml/200 mg)</text><text x="179" y="565.5" font-size="14" text-anchor="middle" fill="#111">(e)</text></g>
<g id="pf"><line x1="398.65" y1="744.5" x2="682.7" y2="744.5" stroke="#d2d2d2" stroke-width="0.9" stroke-dasharray="1 1.4"/><line x1="398.65" y1="703.5" x2="682.7" y2="703.5" stroke="#d2d2d2" stroke-width="0.9" stroke-dasharray="1 1.4"/><line x1="398.65" y1="662.5" x2="682.7" y2="662.5" stroke="#d2d2d2" stroke-width="0.9" stroke-dasharray="1 1.4"/><line x1="398.65" y1="621.5" x2="682.7" y2="621.5" stroke="#d2d2d2" stroke-width="0.9" stroke-dasharray="1 1.4"/><rect x="570.4" y="580.55" width="113.3" height="46.8" fill="#fff" stroke="#808080" stroke-width="1.2"/><path d="M575.9 592.05 L620.1 592.05" fill="none" stroke="#505050" stroke-width="1.15"/><circle cx="598.2" cy="592.05" r="2.75" fill="#000"/><text x="631" y="595.55" font-size="10" fill="#111"><tspan font-style="italic" letter-spacing="0.3">P.o.</tspan> PO93</text><path d="M575.9 604.05 L615.7 604.05" fill="none" stroke="#505050" stroke-width="1.0" stroke-dasharray="10.5 4"/><path d="M595.2 602.5H601.2L598.2 607.4Z" fill="#fff" stroke="#111" stroke-width="0.95"/><text x="631" y="607.55" font-size="10" fill="#111"><tspan font-style="italic" letter-spacing="0.3">C.s.</tspan> 347</text><path d="M575.9 616.05 L620.1 616.05" fill="none" stroke="#505050" stroke-width="1.05" stroke-dasharray="8 3"/><rect x="595.7" y="613.75" width="5" height="4.6" fill="#000"/><text x="631" y="619.55" font-size="10" fill="#111"><tspan font-style="italic" letter-spacing="0.3">V.v.</tspan> 6190</text><rect x="397.65" y="580.55" width="286.05" height="205.1" fill="none" stroke="#747474" stroke-width="1.35"/><circle cx="403.9" cy="657.58" r="2.75" fill="#000"/><circle cx="435" cy="661.68" r="2.75" fill="#000"/><circle cx="447.44" cy="669.88" r="2.75" fill="#000"/><circle cx="466.1" cy="695.3" r="2.75" fill="#000"/><circle cx="490.98" cy="714.16" r="2.75" fill="#000"/><line x1="403.9" y1="647.6" x2="403.9" y2="662.2" stroke="#d4d4d4" stroke-width="1"/><line x1="400.7" y1="647.6" x2="407.1" y2="647.6" stroke="#d4d4d4" stroke-width="1"/><line x1="400.7" y1="650" x2="407.1" y2="650" stroke="#d4d4d4" stroke-width="1"/><line x1="400.7" y1="662.2" x2="407.1" y2="662.2" stroke="#d4d4d4" stroke-width="1"/><line x1="435" y1="642.3" x2="435" y2="678.3" stroke="#d4d4d4" stroke-width="1"/><line x1="431.8" y1="642.3" x2="438.2" y2="642.3" stroke="#d4d4d4" stroke-width="1"/><line x1="431.8" y1="645.3" x2="438.2" y2="645.3" stroke="#d4d4d4" stroke-width="1"/><line x1="431.8" y1="678.3" x2="438.2" y2="678.3" stroke="#d4d4d4" stroke-width="1"/><line x1="447.44" y1="647.2" x2="447.44" y2="690.1" stroke="#d4d4d4" stroke-width="1"/><line x1="444.24" y1="647.2" x2="450.64" y2="647.2" stroke="#d4d4d4" stroke-width="1"/><line x1="444.24" y1="649.6" x2="450.64" y2="649.6" stroke="#d4d4d4" stroke-width="1"/><line x1="444.24" y1="665.3" x2="450.64" y2="665.3" stroke="#d4d4d4" stroke-width="1"/><line x1="444.24" y1="685.5" x2="450.64" y2="685.5" stroke="#d4d4d4" stroke-width="1"/><line x1="444.24" y1="690.1" x2="450.64" y2="690.1" stroke="#d4d4d4" stroke-width="1"/><line x1="466.1" y1="665.3" x2="466.1" y2="716.3" stroke="#d4d4d4" stroke-width="1"/><line x1="462.9" y1="665.3" x2="469.3" y2="665.3" stroke="#d4d4d4" stroke-width="1"/><line x1="462.9" y1="674.4" x2="469.3" y2="674.4" stroke="#d4d4d4" stroke-width="1"/><line x1="462.9" y1="716.3" x2="469.3" y2="716.3" stroke="#d4d4d4" stroke-width="1"/><line x1="490.98" y1="685.2" x2="490.98" y2="722.3" stroke="#d4d4d4" stroke-width="1"/><line x1="487.78" y1="685.2" x2="494.18" y2="685.2" stroke="#d4d4d4" stroke-width="1"/><line x1="487.78" y1="689" x2="494.18" y2="689" stroke="#d4d4d4" stroke-width="1"/><line x1="487.78" y1="705.9" x2="494.18" y2="705.9" stroke="#d4d4d4" stroke-width="1"/><line x1="487.78" y1="708.9" x2="494.18" y2="708.9" stroke="#d4d4d4" stroke-width="1"/><line x1="487.78" y1="722.3" x2="494.18" y2="722.3" stroke="#d4d4d4" stroke-width="1"/><line x1="534.52" y1="700.4" x2="534.52" y2="712.5" stroke="#d4d4d4" stroke-width="1"/><line x1="531.32" y1="700.4" x2="537.72" y2="700.4" stroke="#d4d4d4" stroke-width="1"/><line x1="531.32" y1="712.5" x2="537.72" y2="712.5" stroke="#d4d4d4" stroke-width="1"/><line x1="578.06" y1="703.4" x2="578.06" y2="716.4" stroke="#d4d4d4" stroke-width="1"/><line x1="574.86" y1="703.4" x2="581.26" y2="703.4" stroke="#d4d4d4" stroke-width="1"/><line x1="574.86" y1="716.4" x2="581.26" y2="716.4" stroke="#d4d4d4" stroke-width="1"/><line x1="397.65" y1="634.96" x2="683.7" y2="634.96" stroke="#747474" stroke-width="1.9"/><path d="M403.9 657.58 L435 661.68 L447.44 669.88 L466.1 695.3 L490.98 714.16" fill="none" stroke="#303030" stroke-width="1.15"/><path d="M403.9 657.5 L435 653.4 L447.44 655.04 L466.1 678.82 L490.98 698.5" fill="none" stroke="#505050" stroke-width="1.0" stroke-dasharray="10.5 4"/><path d="M400.9 655.95H406.9L403.9 660.85Z" fill="#fff" stroke="#111" stroke-width="0.95"/><path d="M432 651.85H438L435 656.75Z" fill="#fff" stroke="#111" stroke-width="0.95"/><path d="M444.44 653.49H450.44L447.44 658.39Z" fill="#fff" stroke="#111" stroke-width="0.95"/><path d="M463.1 677.27H469.1L466.1 682.17Z" fill="#fff" stroke="#111" stroke-width="0.95"/><path d="M487.98 696.95H493.98L490.98 701.85Z" fill="#fff" stroke="#111" stroke-width="0.95"/><path d="M403.9 651.43 L447.44 681.36 L490.98 696.94 L534.52 705.96 L578.06 709.65" fill="none" stroke="#444" stroke-width="1.05" stroke-dasharray="8 3"/><rect x="401.4" y="649.13" width="5" height="4.6" fill="#000"/><rect x="444.94" y="679.06" width="5" height="4.6" fill="#000"/><rect x="488.48" y="694.64" width="5" height="4.6" fill="#000"/><rect x="532.02" y="703.66" width="5" height="4.6" fill="#000"/><rect x="575.56" y="707.35" width="5" height="4.6" fill="#000"/><line x1="394.45" y1="785.5" x2="397.65" y2="785.5" stroke="#444" stroke-width="1"/><text x="391.05" y="788.25" font-size="8.8" text-anchor="end" fill="#222" textLength="9.1" lengthAdjust="spacingAndGlyphs">15</text><line x1="394.45" y1="744.5" x2="397.65" y2="744.5" stroke="#444" stroke-width="1"/><text x="391.05" y="747.25" font-size="8.8" text-anchor="end" fill="#222" textLength="9.1" lengthAdjust="spacingAndGlyphs">20</text><line x1="394.45" y1="703.5" x2="397.65" y2="703.5" stroke="#444" stroke-width="1"/><text x="391.05" y="706.25" font-size="8.8" text-anchor="end" fill="#222" textLength="9.1" lengthAdjust="spacingAndGlyphs">25</text><line x1="394.45" y1="662.5" x2="397.65" y2="662.5" stroke="#444" stroke-width="1"/><text x="391.05" y="665.25" font-size="8.8" text-anchor="end" fill="#222" textLength="9.1" lengthAdjust="spacingAndGlyphs">30</text><line x1="394.45" y1="621.5" x2="397.65" y2="621.5" stroke="#444" stroke-width="1"/><text x="391.05" y="624.25" font-size="8.8" text-anchor="end" fill="#222" textLength="9.1" lengthAdjust="spacingAndGlyphs">35</text><line x1="394.45" y1="580.5" x2="397.65" y2="580.5" stroke="#444" stroke-width="1"/><text x="391.05" y="583.25" font-size="8.8" text-anchor="end" fill="#222" textLength="9.1" lengthAdjust="spacingAndGlyphs">40</text><line x1="403.9" y1="785.65" x2="403.9" y2="788.85" stroke="#444" stroke-width="1"/><text x="403.9" y="799.75" font-size="8.8" text-anchor="middle" fill="#222" textLength="4.55" lengthAdjust="spacingAndGlyphs">0</text><line x1="466.1" y1="785.65" x2="466.1" y2="788.85" stroke="#444" stroke-width="1"/><text x="466.1" y="799.75" font-size="8.8" text-anchor="middle" fill="#222" textLength="9.1" lengthAdjust="spacingAndGlyphs">10</text><line x1="528.3" y1="785.65" x2="528.3" y2="788.85" stroke="#444" stroke-width="1"/><text x="528.3" y="799.75" font-size="8.8" text-anchor="middle" fill="#222" textLength="9.1" lengthAdjust="spacingAndGlyphs">20</text><line x1="590.5" y1="785.65" x2="590.5" y2="788.85" stroke="#444" stroke-width="1"/><text x="590.5" y="799.75" font-size="8.8" text-anchor="middle" fill="#222" textLength="9.1" lengthAdjust="spacingAndGlyphs">30</text><line x1="652.7" y1="785.65" x2="652.7" y2="788.85" stroke="#444" stroke-width="1"/><text x="652.7" y="799.75" font-size="8.8" text-anchor="middle" fill="#222" textLength="9.1" lengthAdjust="spacingAndGlyphs">40</text><text x="539.8" y="818" font-size="14" text-anchor="middle" fill="#111">Time (days)</text><text transform="translate(368.4,686.4) rotate(-90)" x="0" y="0" font-size="14" text-anchor="middle" fill="#111">HFT (ml/200 mg)</text><text x="549.4" y="565.5" font-size="14" text-anchor="middle" fill="#111">(f)</text></g>
</svg></body></html>
